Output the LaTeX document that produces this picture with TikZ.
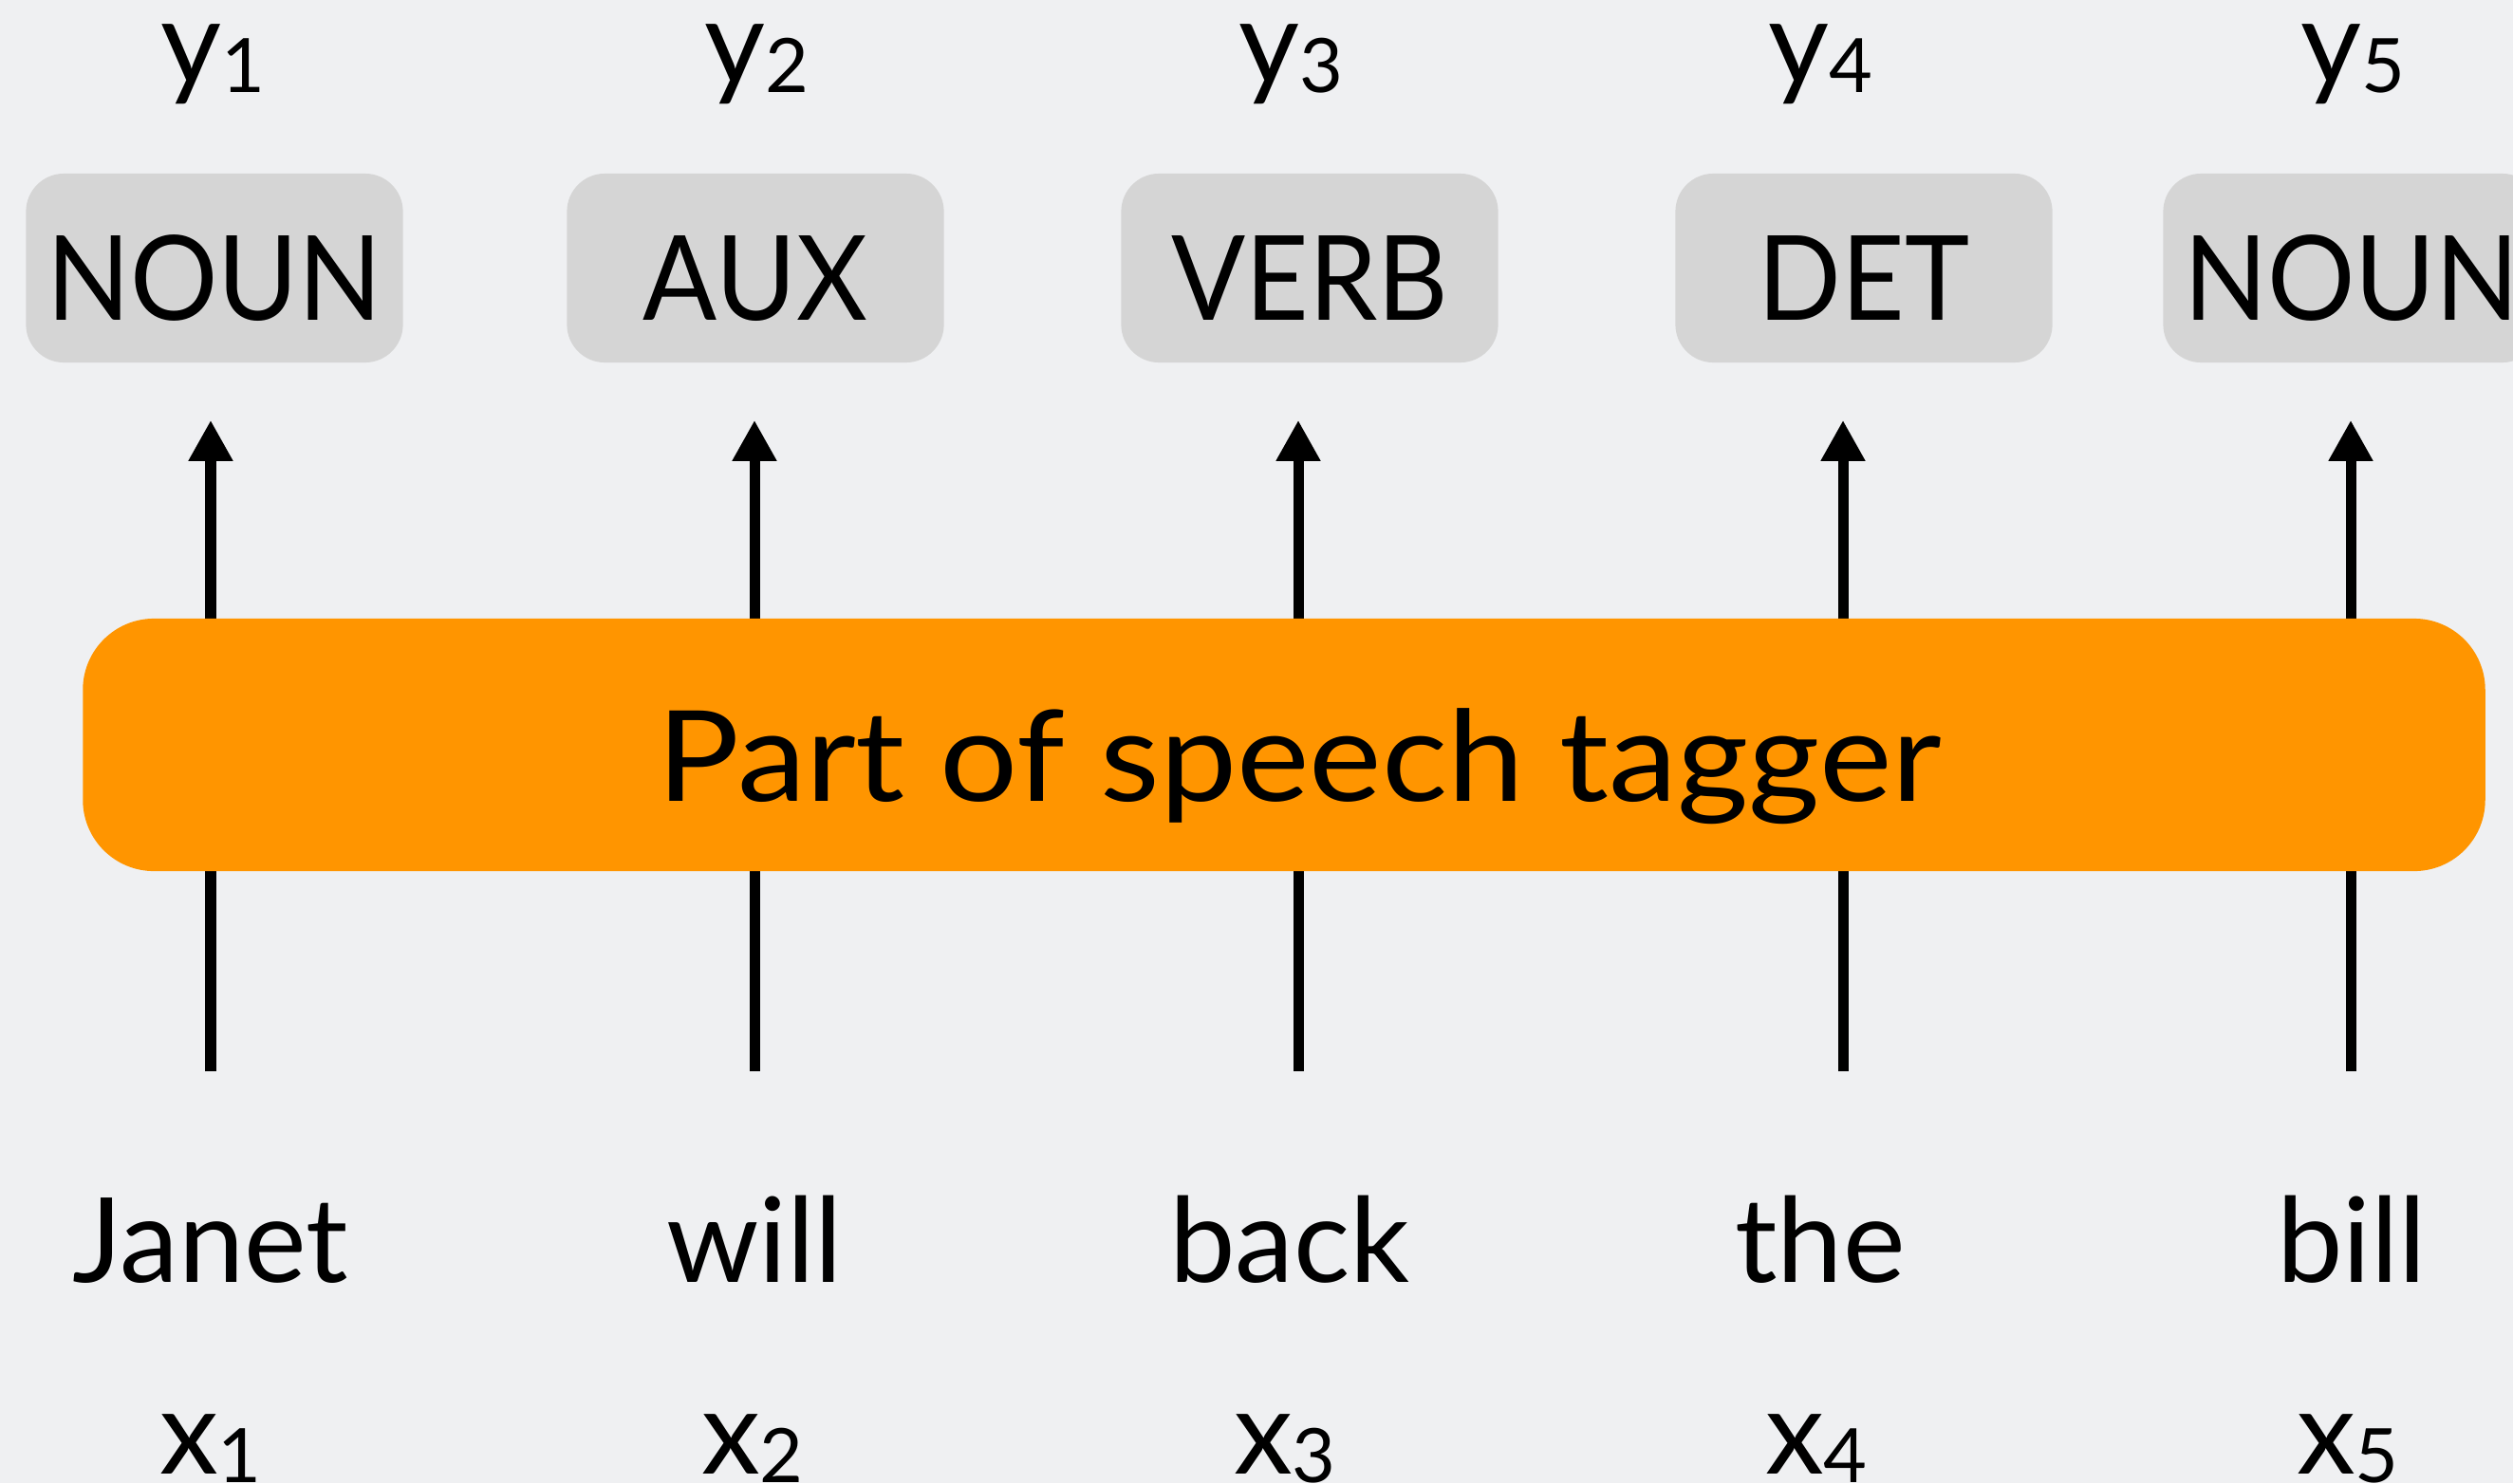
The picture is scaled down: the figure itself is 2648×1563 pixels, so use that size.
\documentclass[tikz,border=0pt]{standalone}
\usepackage{fontspec}
\usepackage{graphicx}
\setmainfont{Lato}
\usetikzlibrary{arrows.meta}
\definecolor{bgc}{RGB}{239,240,242}
\definecolor{tagfill}{RGB}{213,213,213}
\definecolor{orng}{RGB}{255,149,0}
\newcommand\mysub[1]{\raisebox{-0.09cm}{\fontsize{22.5}{22.5}\selectfont #1}}
\newcommand\tagtxt[1]{\scalebox{0.93}[1]{#1}}
\begin{document}
\begin{tikzpicture}[x=0.01cm,y=-0.01cm,
  tagbox/.style={fill=tagfill, rounded corners=0.4cm, minimum width=3.97cm, minimum height=1.99cm, inner sep=0pt, text height=1.09cm, text depth=0cm, font=\fontsize{35.3}{40}\selectfont},
  tagger/.style={fill=orng, rounded corners=0.75cm, minimum width=25.3cm, minimum height=2.66cm, inner sep=0pt, text height=1.18cm, text depth=0cm, font=\fontsize{37.8}{44}\selectfont},
  word/.style={anchor=base, inner sep=0pt, font=\fontsize{35.3}{40}\selectfont},
  var/.style={anchor=base, inner sep=0pt, font=\fontsize{35.3}{40}\selectfont},
  arr/.style={line width=0.11cm, -{Triangle[width=0.44cm, length=0.43cm]}, shorten >=0.6cm}
]
\useasboundingbox (0,0) rectangle (2648,1563);
\fill[bgc] (0,0) rectangle (2648,1563);

% tag boxes
\node[tagbox] (t1) at (226,282.5) {\tagtxt{NOUN}};
\node[tagbox] (t2) at (796,282.5) {\tagtxt{AUX}};
\node[tagbox] (t3) at (1380,282.5) {\tagtxt{VERB}};
\node[tagbox] (t4) at (1964,282.5) {\tagtxt{DET}};
\node[tagbox] (t5) at (2478,282.5) {\tagtxt{NOUN}};

% arrow start points
\coordinate (s1) at (222,1129);
\coordinate (s2) at (795,1129);
\coordinate (s3) at (1368,1129);
\coordinate (s4) at (1942,1129);
\coordinate (s5) at (2477,1129);

\draw[arr] (s1) -- (s1 |- t1.south);
\draw[arr] (s2) -- (s2 |- t2.south);
\draw[arr] (s3) -- (s3 |- t3.south);
\draw[arr] (s4) -- (s4 |- t4.south);
\draw[arr] (s5) -- (s5 |- t5.south);

% tagger box
\node[tagger] (tg) at (1353,785) {\hspace*{0.32cm}\scalebox{1.09}[1]{Part of speech tagger}};

% output variables
\node[var] (y1) at (224,88) {y\mysub{1}};
\node[var] (y2) at (797,88) {y\mysub{2}};
\node[var] (y3) at (1360,88) {y\mysub{3}};
\node[var] (y4) at (1918,88) {y\mysub{4}};
\node[var] (y5) at (2479,88) {y\mysub{5}};

% words
\node[word] (w1) at (222,1351) {Janet};
\node[word] (w2) at (795,1351) {will};
\node[word] (w3) at (1359,1351) {back};
\node[word] (w4) at (1918,1351) {the};
\node[word] (w5) at (2478,1351) {bill};

% input variables
\node[var] (x1) at (222,1553) {x\mysub{1}};
\node[var] (x2) at (793,1553) {x\mysub{2}};
\node[var] (x3) at (1354,1553) {x\mysub{3}};
\node[var] (x4) at (1914,1553) {x\mysub{4}};
\node[var] (x5) at (2474,1553) {x\mysub{5}};
\end{tikzpicture}
\end{document}
